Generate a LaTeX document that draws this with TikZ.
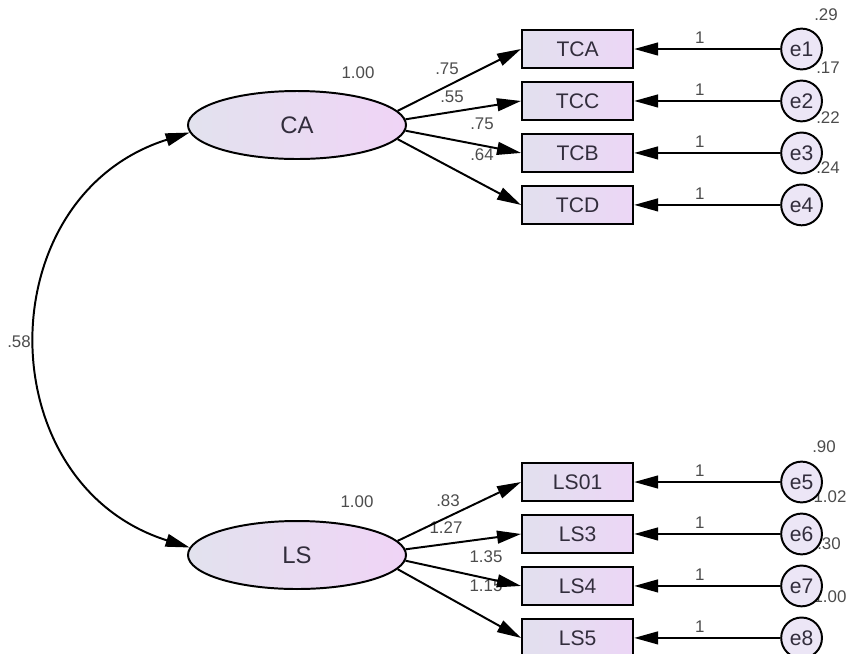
\documentclass[tikz,border=0pt]{standalone}
\usepackage{fontspec}
\setmainfont{Liberation Sans}
\usepackage{tikz}
\usetikzlibrary{positioning,arrows.meta,shapes.geometric}
\definecolor{latleft}{RGB}{226,226,238}
\definecolor{latright}{RGB}{240,212,246}
\definecolor{obsleft}{RGB}{226,224,238}
\definecolor{obsright}{RGB}{236,214,246}
\definecolor{errfill}{RGB}{236,230,246}
\definecolor{inktext}{RGB}{50,45,60}

\begin{document}
\begin{tikzpicture}[
  latent/.style={draw, ellipse, line width=1.4pt, minimum width=5.45cm, minimum height=1.7cm,
    left color=latleft, right color=latright, text=inktext, font=\fontsize{17}{19}\selectfont},
  obs/.style={draw, rectangle, line width=1.4pt, minimum width=2.78cm, minimum height=0.95cm,
    left color=obsleft, right color=obsright, text=inktext, font=\fontsize{15}{17}\selectfont},
  err/.style={draw, circle, line width=1.4pt, minimum size=1.02cm, inner sep=0pt,
    fill=errfill, text=inktext, font=\fontsize{15}{17}\selectfont},
  est/.style={inner sep=1pt, text=black!70, font=\fontsize{12}{14}\selectfont},
  arr/.style={-{Triangle[length=0.6cm,width=0.32cm]}, line width=1.4pt},
  cov/.style={{Triangle[length=0.6cm,width=0.32cm]}-{Triangle[length=0.6cm,width=0.32cm]}, line width=1.4pt}
]
\useasboundingbox (0,0) rectangle (21.225,-16.325);

% latent factors
\node[latent] (CA) at (7.425,-3.125) {CA};
\node[latent] (LS) at (7.425,-13.875) {LS};

% indicators
\node[obs] (TCA) at (14.44,-1.225) {TCA};
\node[obs, below=0.3cm of TCA] (TCC) {TCC};
\node[obs, below=0.3cm of TCC] (TCB) {TCB};
\node[obs, below=0.3cm of TCB] (TCD) {TCD};

\node[obs] (LS01) at (14.44,-12.05) {LS01};
\node[obs, below=0.3cm of LS01] (LS3) {LS3};
\node[obs, below=0.3cm of LS3] (LS4) {LS4};
\node[obs, below=0.3cm of LS4] (LS5) {LS5};

% error variances
\node[est] (v1) at (20.65,-0.375) {.29};
\node[est] (v2) at (20.7,-1.7) {.17};
\node[est] (v3) at (20.7,-2.95) {.22};
\node[est] (v4) at (20.7,-4.2) {.24};
\node[est] (v5) at (20.6,-11.175) {.90};
\node[est] (v6) at (20.75,-12.425) {1.02};
\node[est] (v7) at (20.725,-13.6) {.30};
\node[est] (v8) at (20.75,-14.925) {1.00};

% error terms
\node[err, right=3.65cm of TCA] (e1) {e1};
\node[err, right=3.65cm of TCC] (e2) {e2};
\node[err, right=3.65cm of TCB] (e3) {e3};
\node[err, right=3.65cm of TCD] (e4) {e4};
\node[err, right=3.65cm of LS01] (e5) {e5};
\node[err, right=3.65cm of LS3] (e6) {e6};
\node[err, right=3.65cm of LS4] (e7) {e7};
\node[err, right=3.65cm of LS5] (e8) {e8};

% factor variances and loadings
\node[est] (vCA) at (8.95,-1.825) {1.00};
\node[est] (vLS) at (8.925,-12.55) {1.00};
\node[est] (l1) at (11.175,-1.725) {.75};
\node[est] (l2) at (11.3,-2.425) {.55};
\node[est] (l3) at (12.05,-3.1) {.75};
\node[est] (l4) at (12.05,-3.875) {.64};
\node[est] (l5) at (11.2,-12.525) {.83};
\node[est] (l6) at (11.15,-13.2) {1.27};
\node[est] (l7) at (12.15,-13.925) {1.35};
\node[est] (l8) at (12.15,-14.65) {1.15};
\node[est] (r1) at (0.475,-8.55) {.58};

\draw[arr] (CA.8) -- (TCA.west);
\draw[arr] (CA.3) -- (TCC.west);
\draw[arr] (CA.-3) -- (TCB.west);
\draw[arr] (CA.-8) -- (TCD.west);
\draw[arr] (LS.8) -- (LS01.west);
\draw[arr] (LS.3) -- (LS3.west);
\draw[arr] (LS.-3) -- (LS4.west);
\draw[arr] (LS.-8) -- (LS5.west);

\draw[arr] (e1) -- node[est, above=2pt, pos=0.55] (w1) {1} (TCA);
\draw[arr] (e2) -- node[est, above=2pt, pos=0.55] (w2) {1} (TCC);
\draw[arr] (e3) -- node[est, above=2pt, pos=0.55] (w3) {1} (TCB);
\draw[arr] (e4) -- node[est, above=2pt, pos=0.55] (w4) {1} (TCD);
\draw[arr] (e5) -- node[est, above=2pt, pos=0.55] (w5) {1} (LS01);
\draw[arr] (e6) -- node[est, above=2pt, pos=0.55] (w6) {1} (LS3);
\draw[arr] (e7) -- node[est, above=2pt, pos=0.55] (w7) {1} (LS4);
\draw[arr] (e8) -- node[est, above=2pt, pos=0.55] (w8) {1} (LS5);

\draw[cov] (CA.184) to[out=197.5, in=162.5, looseness=1.31] (LS.176);
\end{tikzpicture}
\end{document}
